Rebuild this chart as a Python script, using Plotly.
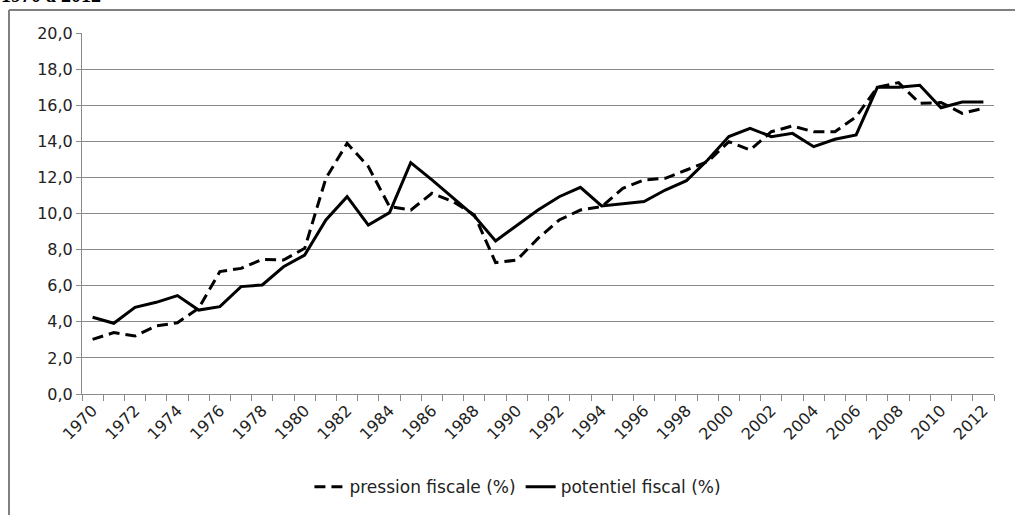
import plotly.graph_objects as go

years = list(range(1970, 2013))
pression = [3.03, 3.40, 3.21, 3.77, 3.95, 4.75, 6.78, 6.96, 7.46, 7.42,
            8.07, 11.95, 13.89, 12.60, 10.38, 10.19, 11.12, 10.66, 9.92, 7.28,
            7.42, 8.62, 9.64, 10.19, 10.38, 11.39, 11.86, 11.95, 12.41, 12.87,
            13.98, 13.52, 14.53, 14.85, 14.53, 14.53, 15.36, 16.99, 17.25, 16.10,
            16.15, 15.55, 15.83]
potentiel = [4.25, 3.92, 4.80, 5.08, 5.45, 4.65, 4.84, 5.95, 6.04, 7.05,
             7.70, 9.64, 10.93, 9.36, 10.05, 12.82, 11.86, 10.84, 9.86, 8.48,
             9.33, 10.19, 10.93, 11.45, 10.42, 10.53, 10.66, 11.30, 11.82, 12.96,
             14.26, 14.72, 14.26, 14.44, 13.70, 14.11, 14.35, 16.99, 16.99, 17.10,
             15.86, 16.18, 16.18]
year_labels = [y for y in years if y % 2 == 0]
y_ticks = [0, 2, 4, 6, 8, 10, 12, 14, 16, 18, 20]
names = ["pression fiscale (%)", "potentiel fiscal (%)"]
title_text = "1970 à 2012"

fig = go.Figure()
fig.add_trace(go.Scatter(x=years, y=pression, mode="lines", name=names[0],
                         line=dict(color="black", width=3, dash="11px,6px")))
fig.add_trace(go.Scatter(x=years, y=potentiel, mode="lines", name=names[1],
                         line=dict(color="black", width=3)))

W, H = 1015, 515
L, R, T, B = 82, 21, 33, 121
pw, ph = W - L - R, H - T - B

fig.update_layout(
    width=W, height=H,
    margin=dict(l=L, r=R, t=T, b=B, autoexpand=False),
    paper_bgcolor="white", plot_bgcolor="white",
    separators=", ",
    font=dict(family="'DejaVu Sans', sans-serif", size=16, color="#222"),
    showlegend=True,
    legend=dict(orientation="h", x=0.478, xanchor="center", y=-0.258, yanchor="middle",
                font=dict(size=17), traceorder="normal"),
    xaxis=dict(range=[1969.5, 2012.5], tickmode="array", tickvals=year_labels,
               ticktext=[str(v) for v in year_labels], tickangle=-45, ticks="",
               showgrid=False, zeroline=False, showline=True, linecolor="#8a8a8a",
               linewidth=1, tickfont=dict(size=16), automargin=False,
               minor=dict(tick0=1969.5, dtick=1, ticks="outside", ticklen=6,
                          tickcolor="#8a8a8a", showgrid=False)),
    yaxis=dict(range=[0, 20], tickvals=y_ticks, tickformat=".1f", ticks="outside",
               ticklen=5, tickcolor="#8a8a8a", showgrid=True, gridcolor="#8a8a8a",
               gridwidth=1, zeroline=False, showline=True, linecolor="#8a8a8a",
               linewidth=1, tickfont=dict(size=16), automargin=False),
)

# outer chart frame (left and top edges visible)
fig.add_shape(type="line", xref="paper", yref="paper",
              x0=(9 - L) / pw, x1=(9 - L) / pw, y0=1 + (T - 10) / ph, y1=-(B + 5) / ph,
              line=dict(color="#808080", width=2))
fig.add_shape(type="line", xref="paper", yref="paper",
              x0=(9 - L) / pw, x1=(W + 5 - L) / pw, y0=1 + (T - 10) / ph, y1=1 + (T - 10) / ph,
              line=dict(color="#808080", width=2))

# clipped title fragment at the very top
fig.add_annotation(text="<b>" + title_text + "</b>", xref="paper", yref="paper",
                   x=(-1 - L) / pw, xanchor="left", y=1 + (T - 8) / ph, yanchor="bottom",
                   showarrow=False, font=dict(family="Liberation Serif", size=20, color="black"))

fig.write_html("out.html", config={"displayModeBar": False},
               post_script="document.body.style.margin='0';")
